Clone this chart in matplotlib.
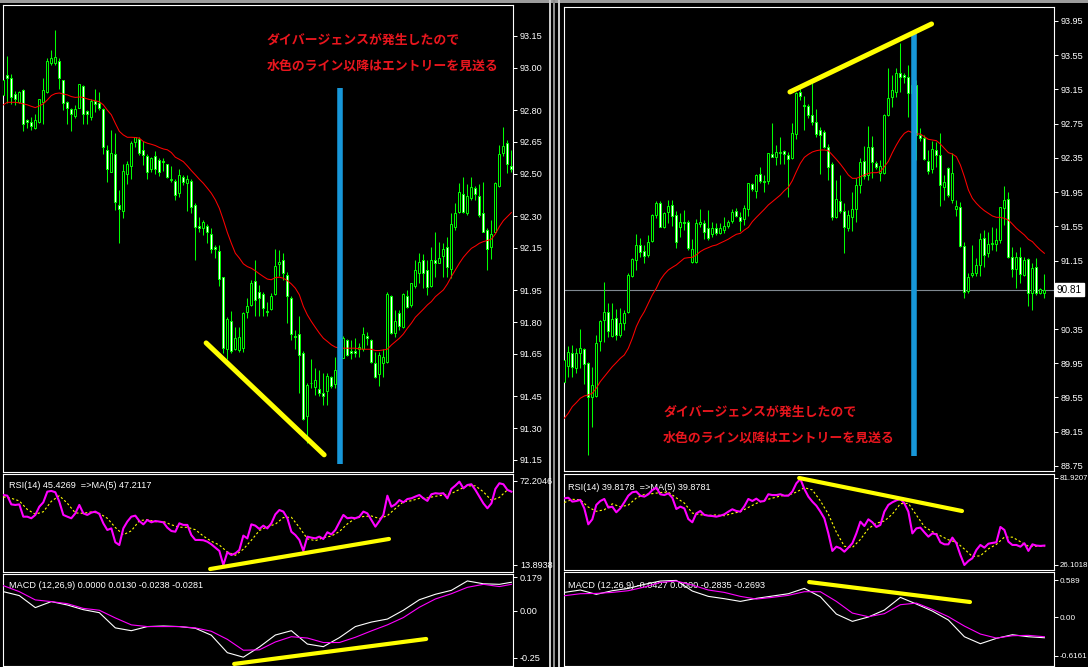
import matplotlib
matplotlib.use("Agg")
import matplotlib.pyplot as plt
import matplotlib.transforms as mtransforms
from matplotlib.patches import Rectangle
import numpy as np

plt.rcParams['font.family'] = ['Liberation Sans', 'Noto Sans CJK JP', 'DejaVu Sans']

# ---------------- DATA : left chart (price falls then rises) ----------------
left_open = [92.87,92.966,92.95,92.875,92.84,92.896,92.754,92.743,92.715,92.743,92.84,92.885,93.021,93.021,93.032,92.94,92.84,92.804,92.771,92.812,
 92.913,92.796,92.768,92.844,92.833,92.804,92.611,92.51,92.592,92.353,92.322,92.50,92.535,92.652,92.664,92.611,92.583,92.521,92.583,92.564,
 92.558,92.545,92.47,92.466,92.411,92.484,92.455,92.466,92.352,92.254,92.243,92.254,92.215,92.153,92.136,92.012,91.672,91.805,91.672,91.669,
 91.68,91.85,91.883,91.992,91.944,91.932,91.853,91.864,91.932,92.072,92.094,92.023,91.913,91.735,91.743,91.654,91.355,91.514,91.492,91.484,
 91.465,91.473,91.539,91.509,91.575,91.633,91.716,91.664,91.664,91.672,91.672,91.735,91.716,91.609,91.556,91.606,91.614,91.924,91.748,91.842,
 91.776,91.924,91.881,91.971,92.034,92.093,92.046,91.971,92.093,92.081,92.112,92.156,92.051,92.251,92.321,92.403,92.313,92.384,92.431,92.395,
 92.313,92.233,92.153,92.224,92.442,92.60,92.644,92.537]
left_high = [92.96,93.056,92.97,92.888,92.888,92.90,92.76,92.77,92.78,92.853,92.95,93.045,93.084,93.18,93.045,92.943,92.844,92.809,92.825,92.922,
 92.919,92.80,92.853,92.90,92.885,92.809,92.636,92.707,92.691,92.424,92.545,92.56,92.655,92.674,92.674,92.655,92.592,92.581,92.605,92.576,
 92.576,92.548,92.537,92.474,92.521,92.495,92.495,92.474,92.364,92.295,92.282,92.264,92.243,92.165,92.163,92.015,91.823,91.852,91.779,91.776,
 91.85,91.913,91.999,92.094,91.976,91.944,91.897,91.937,92.144,92.138,92.125,92.037,91.921,91.764,91.827,91.666,91.512,91.628,91.584,91.575,
 91.562,91.559,91.547,91.635,91.72,91.735,91.719,91.716,91.724,91.70,91.776,91.755,91.719,91.661,91.661,91.672,91.944,91.928,91.858,91.858,
 91.936,91.952,91.986,92.093,92.125,92.122,92.093,92.153,92.227,92.18,92.172,92.203,92.313,92.361,92.455,92.486,92.452,92.486,92.442,92.452,
 92.463,92.243,92.282,92.463,92.636,92.722,92.659,92.612]
left_low = [92.86,92.833,92.83,92.822,92.833,92.70,92.715,92.707,92.712,92.738,92.734,92.88,93.013,93.013,92.90,92.80,92.734,92.70,92.762,92.809,
 92.734,92.734,92.754,92.79,92.80,92.592,92.463,92.51,92.33,92.172,92.293,92.45,92.474,92.627,92.589,92.542,92.473,92.51,92.499,92.491,
 92.513,92.479,92.463,92.374,92.392,92.447,92.322,92.314,92.091,92.223,92.212,92.172,92.125,92.102,91.971,91.654,91.625,91.654,91.669,91.661,
 91.661,91.819,91.874,91.83,91.83,91.83,91.83,91.858,91.929,92.018,91.999,91.795,91.716,91.672,91.465,91.339,91.232,91.489,91.456,91.452,
 91.41,91.41,91.489,91.487,91.56,91.63,91.641,91.625,91.637,91.637,91.666,91.692,91.606,91.535,91.499,91.543,91.609,91.744,91.732,91.763,
 91.771,91.865,91.873,91.96,91.983,91.96,91.928,91.968,92.015,92.078,92.015,92.015,92.007,92.235,92.313,92.313,92.306,92.376,92.376,92.298,
 92.227,92.046,92.097,92.219,92.439,92.584,92.502,92.51]
left_close = [92.94,92.95,92.86,92.853,92.885,92.734,92.743,92.723,92.754,92.851,92.894,93.032,93.045,93.053,92.95,92.833,92.812,92.781,92.806,92.922,
 92.781,92.781,92.844,92.831,92.812,92.624,92.521,92.60,92.366,92.333,92.513,92.545,92.646,92.671,92.60,92.59,92.51,92.573,92.521,92.51,
 92.556,92.484,92.472,92.40,92.495,92.463,92.474,92.342,92.251,92.242,92.271,92.223,92.144,92.144,92.003,91.68,91.814,91.663,91.724,91.732,
 91.842,91.874,91.984,91.905,91.913,91.866,91.85,91.924,92.066,92.084,92.034,91.921,91.743,91.732,91.646,91.342,91.504,91.511,91.528,91.465,
 91.452,91.547,91.501,91.575,91.70,91.724,91.645,91.653,91.653,91.681,91.744,91.724,91.614,91.543,91.645,91.634,91.931,91.751,91.807,91.782,
 91.931,91.873,91.983,92.046,92.082,92.034,91.964,92.093,92.081,92.101,92.145,92.062,92.262,92.313,92.412,92.321,92.395,92.439,92.403,92.306,
 92.227,92.144,92.216,92.455,92.593,92.631,92.546,92.521]
left_ma = [92.825,92.837,92.837,92.837,92.834,92.83,92.825,92.818,92.812,92.82,92.83,92.848,92.869,92.878,92.881,92.876,92.872,92.864,92.86,92.862,
 92.86,92.853,92.848,92.844,92.84,92.825,92.80,92.778,92.738,92.70,92.683,92.672,92.672,92.671,92.668,92.652,92.644,92.639,92.633,92.624,
 92.617,92.613,92.60,92.578,92.568,92.557,92.537,92.515,92.495,92.474,92.455,92.432,92.408,92.377,92.337,92.282,92.223,92.172,92.125,92.102,
 92.075,92.062,92.054,92.042,92.028,92.015,92.003,92.0,92.01,92.012,92.007,91.996,91.98,91.96,91.929,91.874,91.834,91.803,91.775,91.748,
 91.724,91.709,91.693,91.682,91.678,91.677,91.677,91.677,91.677,91.674,91.672,91.672,91.672,91.666,91.666,91.669,91.672,91.692,91.708,91.724,
 91.744,91.771,91.795,91.823,91.842,91.861,91.881,91.897,91.92,91.936,91.952,91.98,92.015,92.046,92.078,92.106,92.128,92.148,92.159,92.172,
 92.18,92.185,92.191,92.216,92.251,92.279,92.298,92.317]
left_rsi = [62.3,61.8,55.8,55.4,55.8,47.3,47.3,46.2,48.5,54.2,57.2,64.6,65.1,64.2,57.7,48.5,47.3,46.2,49.6,55.4,
 49.6,48.5,50.1,50.8,49.2,42.7,38.1,39.2,29.6,27.7,39.2,43.9,47.3,48.0,44.3,42.0,45.0,43.4,44.3,43.9,
 43.4,39.7,37.4,36.9,42.7,41.6,41.6,34.6,31.2,31.2,31.0,30.0,28.2,25.9,23.6,13.9,22.7,20.8,21.95,24.3,
 34.2,32.3,42.0,41.1,38.8,41.1,39.2,42.7,48.9,51.9,50.8,46.2,36.9,34.6,31.2,23.6,33.5,32.8,32.3,33.5,
 31.9,36.5,35.1,38.1,43.4,48.5,46.2,46.6,46.2,47.3,50.8,49.6,45.0,40.4,44.3,48.5,61.8,54.2,55.8,58.8,
 57.2,59.5,60.0,61.2,62.3,60.0,58.2,62.8,63.5,63.2,63.5,60.0,66.5,68.8,71.5,66.9,69.2,69.7,65.8,61.2,
 56.5,53.1,56.5,66.5,70.4,69.7,65.8,64.6]
left_rsi_ma = [61.0,60.0,58.2,52.3,49.0,50.7,57.9,61.8,56.6,49.9,49.6,50.6,49.6,46.2,39.8,34.8,37.5,44.5,45.3,43.8,
 44.0,41.7,40.0,40.0,38.3,33.9,30.3,27.7,22.9,20.6,24.8,31.0,37.7,40.4,42.1,46.7,46.9,39.9,32.0,30.7,
 32.8,33.9,37.0,42.3,46.2,47.4,47.8,46.0,48.0,52.9,57.6,58.3,60.0,60.3,61.4,62.2,63.3,66.1,68.6,68.6,
 64.5,58.6,60.6,65.8]
left_macd = [0.103,0.082,0.018,0.050,0.032,0.007,-0.009,-0.090,-0.105,-0.083,-0.080,-0.083,-0.092,-0.129,-0.222,-0.246,-0.192,
 -0.128,-0.105,-0.176,-0.190,-0.142,-0.083,-0.059,-0.043,0.004,0.060,0.089,0.110,0.160,0.145,0.142,0.153]
left_signal = [0.135,0.103,0.059,0.050,0.039,0.014,0.004,-0.037,-0.074,-0.083,-0.083,-0.083,-0.090,-0.108,-0.151,-0.209,-0.207,
 -0.165,-0.137,-0.144,-0.168,-0.168,-0.140,-0.106,-0.074,-0.035,0.020,0.064,0.092,0.126,0.142,0.130,0.142]

# ---------------- DATA : right chart (price rises then falls) ----------------
right_open = [89.736,89.919,90.067,89.892,90.067,90.113,89.95,89.56,89.568,90.207,90.456,90.553,90.27,90.476,90.28,90.417,90.553,90.97,91.157,91.333,
 91.266,91.216,91.383,91.683,91.819,91.547,91.714,91.80,91.683,91.547,91.605,91.605,91.138,91.138,91.578,91.593,91.527,91.46,91.527,91.469,
 91.507,91.554,91.616,91.733,91.663,91.632,91.749,92.045,91.967,92.162,92.084,92.08,92.391,92.356,92.41,92.43,92.384,92.345,92.63,93.124,
 92.968,92.956,92.851,92.773,92.676,92.656,92.473,92.278,91.663,91.85,91.733,91.527,91.663,91.749,92.033,92.317,92.15,92.481,92.294,92.177,
 92.169,92.851,93.057,93.124,93.338,93.318,93.299,93.112,93.20,92.62,92.578,92.317,92.216,92.442,92.384,92.014,92.228,91.858,91.749,91.78,
 91.32,90.798,90.98,91.001,91.098,91.41,91.235,91.344,91.344,91.39,91.76,91.866,91.196,91.048,91.188,90.98,91.164,90.767,91.071,90.767,90.77]
right_high = [90.086,90.152,90.164,90.125,90.347,90.125,89.969,89.903,90.281,90.456,90.904,90.659,90.65,90.58,90.592,90.573,91.001,91.177,91.461,91.41,
 91.333,91.449,91.695,91.85,91.85,91.722,91.858,91.858,91.734,91.70,91.74,91.625,91.399,91.632,91.749,91.625,91.741,91.605,91.586,91.593,
 91.663,91.624,91.749,91.76,91.721,91.80,92.06,92.06,92.162,92.24,92.15,92.41,92.754,92.50,92.59,92.442,92.423,92.754,93.124,93.163,
 93.073,92.98,93.221,92.917,92.707,92.676,92.512,92.306,92.091,92.15,91.827,91.741,91.955,92.111,92.345,92.489,92.722,92.605,92.317,92.325,
 92.863,93.396,93.318,93.396,93.696,93.346,93.435,93.30,93.26,92.695,92.617,92.442,92.551,92.539,92.637,92.15,92.247,92.403,91.858,91.838,
 91.371,91.001,91.332,91.176,91.468,91.507,91.488,91.538,91.527,91.78,92.021,91.955,91.313,91.254,91.305,91.188,91.176,91.125,91.176,90.826,90.993]
right_low = [89.716,89.794,89.786,89.841,89.892,89.708,88.879,89.21,89.56,90.098,90.203,90.261,90.26,90.22,90.26,90.339,90.542,90.955,91.04,91.196,
 91.126,91.188,91.371,91.644,91.539,91.527,91.586,91.555,91.294,91.43,91.508,91.274,91.118,91.126,91.547,91.399,91.391,91.43,91.449,91.461,
 91.468,91.527,91.593,91.655,91.499,91.566,91.671,91.967,91.877,92.06,91.955,92.045,92.356,92.267,92.28,92.28,91.897,92.333,92.567,93.03,
 92.676,92.82,92.734,92.59,92.161,92.461,92.091,91.624,91.643,91.71,91.235,91.499,91.499,91.605,91.936,92.099,92.091,92.111,92.216,92.084,
 92.161,92.84,92.94,93.057,93.124,93.221,92.824,93.00,92.33,92.55,92.325,92.161,92.169,92.247,91.788,91.858,91.897,91.819,91.671,91.313,
 90.709,90.775,90.96,90.97,90.97,91.079,91.196,91.274,91.266,91.352,91.566,91.176,90.962,90.826,90.884,90.97,90.619,90.572,90.748,90.76,90.709]
right_close = [89.989,90.078,89.903,90.074,90.125,89.942,89.56,89.697,90.191,90.444,90.553,90.331,90.47,90.28,90.417,90.542,90.982,91.165,91.333,91.255,
 91.204,91.371,91.683,91.819,91.547,91.70,91.788,91.671,91.371,91.605,91.59,91.294,91.282,91.586,91.605,91.488,91.41,91.527,91.469,91.535,
 91.554,91.605,91.721,91.671,91.616,91.76,92.052,91.982,92.15,92.084,92.072,92.403,92.356,92.423,92.41,92.39,92.333,92.637,93.112,93.073,
 92.96,92.851,92.773,92.629,92.617,92.481,92.247,91.663,91.866,91.733,91.538,91.682,91.749,92.033,92.306,92.138,92.473,92.306,92.24,92.255,
 92.851,93.046,93.143,93.346,93.299,93.291,93.112,93.20,92.62,92.58,92.333,92.20,92.45,92.384,92.033,92.064,91.916,92.169,91.792,91.32,
 90.787,90.962,91.001,91.098,91.398,91.215,91.344,91.352,91.39,91.772,91.858,91.188,91.048,91.188,90.993,91.157,90.767,91.059,90.775,90.814,90.81]
right_ma = [89.307,89.366,89.443,89.49,89.541,89.568,89.58,89.599,89.658,89.736,89.794,89.852,89.91,89.958,90.008,90.047,90.125,90.242,90.378,90.476,
 90.553,90.651,90.748,90.826,90.924,90.99,91.04,91.071,91.099,91.138,91.177,91.184,91.188,91.216,91.255,91.282,91.301,91.321,91.332,91.355,
 91.377,91.40,91.43,91.457,91.468,91.507,91.538,91.605,91.655,91.702,91.749,91.80,91.838,91.877,91.916,91.967,92.006,92.084,92.189,92.286,
 92.356,92.391,92.419,92.434,92.442,92.442,92.434,92.384,92.333,92.278,92.216,92.15,92.111,92.111,92.13,92.15,92.169,92.177,92.177,92.189,
 92.247,92.31,92.411,92.50,92.578,92.637,92.664,92.645,92.629,92.629,92.598,92.567,92.559,92.551,92.512,92.461,92.411,92.395,92.364,92.267,
 92.13,91.975,91.877,91.819,91.772,91.733,91.702,91.671,91.655,91.655,91.643,91.624,91.577,91.527,91.488,91.449,91.398,91.371,91.32,91.274,91.235]
right_rsi = [68.7,69.1,66.6,67.0,67.7,62.3,52.1,55.3,64.5,67.0,68.3,62.8,63.4,59.8,62.3,66.2,70.4,72.6,73.0,70.4,
 69.8,71.3,74.0,75.5,71.3,70.8,71.9,69.1,61.9,63.4,62.3,55.5,53.4,59.1,60.6,58.1,57.6,57.4,57.0,57.6,
 58.5,60.2,61.7,60.6,60.2,63.6,68.3,67.0,68.5,66.6,67.0,71.3,70.8,70.8,71.3,70.4,70.4,73.0,78.3,81.1,
 74.7,69.8,66.6,64.0,60.2,55.9,46.3,35.1,37.8,36.8,34.6,37.2,40.0,46.3,53.8,51.0,55.3,53.4,50.4,51.7,
 60.2,64.5,66.2,67.4,68.3,65.5,60.2,46.3,49.5,50.0,47.0,44.2,46.3,45.7,40.6,39.3,39.3,43.6,40.0,32.5,
 26.1,28.7,30.4,35.7,38.9,37.2,39.7,40.2,40.6,50.4,48.5,41.0,38.9,38.9,37.8,40.0,35.1,39.3,38.5,38.3,38.5]
right_rsi_ma = [66.0,68.1,67.8,63.1,60.4,61.4,65.2,63.3,64.4,68.9,71.2,71.7,72.4,72.7,69.0,65.7,59.3,58.2,57.8,58.1,
 57.6,59.0,60.2,62.9,65.5,67.5,68.8,70.2,70.7,72.7,75.5,74.1,67.1,58.6,47.1,38.1,37.3,42.4,49.3,52.8,
 54.2,58.6,65.3,65.5,58.0,50.6,47.4,44.8,42.2,40.6,36.3,31.5,32.0,36.4,39.3,43.9,43.9,41.0,38.1,38.1,37.9]
right_macd = [0.392,0.430,0.361,0.419,0.456,0.520,0.573,0.583,0.414,0.329,0.292,0.249,0.297,0.334,0.371,0.456,0.323,0.047,-0.069,0.000,
 0.111,0.313,0.207,0.095,-0.048,-0.314,-0.425,-0.340,-0.282,-0.314,-0.330]
right_signal = [0.339,0.371,0.376,0.392,0.419,0.477,0.552,0.573,0.509,0.430,0.392,0.329,0.286,0.313,0.345,0.403,0.403,0.249,0.063,0.005,
 0.053,0.196,0.222,0.122,0.005,-0.144,-0.271,-0.335,-0.298,-0.292,-0.314]

# tick labels
left_price_ticks = [93.15, 93.00, 92.80, 92.65, 92.50, 92.30, 92.15, 91.95, 91.80, 91.65, 91.45, 91.30, 91.15]
right_price_ticks = [93.95, 93.55, 93.15, 92.75, 92.35, 91.95, 91.55, 91.15, 90.35, 89.95, 89.55, 89.15, 88.75]
left_rsi_ticks = [13.8938, 72.2046]
right_rsi_ticks = [26.1018, 81.9207]
left_macd_ticks = [-0.25, 0.0, 0.179]
left_macd_labels = ['-0.25', '0.00', '0.179']
right_macd_ticks = [-0.6161, 0.0, 0.589]
right_macd_labels = ['-0.6161', '0.00', '0.589']
right_last_price = 90.81

# hand-drawn annotations (candle index, value)
left_blue_line = [(84.05, 92.905), (84.05, 91.131)]
left_price_trend = [(50.7, 91.702), (80.2, 91.174)]
left_rsi_trend = [(51.7, 11.1), (96.4, 31.9)]
left_macd_trend = [(57.7, -0.282), (105.7, -0.149)]
right_blue_line = [(87.36, 93.82), (87.36, 88.867)]
right_price_trend = [(56.4, 93.12), (91.8, 93.915)]
right_rsi_trend = [(58.7, 81.7), (99.4, 60.6)]
right_macd_trend = [(61.2, 0.557), (101.4, 0.239)]
note_line1 = "ダイバージェンスが発生したので"
note_line2 = "水色のライン以降はエントリーを見送る"
left_rsi_title = "RSI(14) 45.4269  =>MA(5) 47.2117"
left_macd_title = "MACD (12,26,9) 0.0000 0.0130 -0.0238 -0.0281"
right_rsi_title = "RSI(14) 39.8178  =>MA(5) 39.8781"
right_macd_title = "MACD (12,26,9) -0.0427 0.0000 -0.2835 -0.2693"

# ---------------- drawing ----------------
W, H = 1088, 667
fig = plt.figure(figsize=(W / 100, H / 100), dpi=100, facecolor='black')
GREEN = '#00ff00'
BLUE = '#1797d9'
YELLOW = '#ffff00'
TXT_RED = '#e8161e'
JP = ['Noto Sans CJK JP', 'DejaVu Sans']


def fig_rect(x, y, w, h, color):
    fig.add_artist(Rectangle((x / W, 1 - (y + h) / H), w / W, h / H,
                             transform=fig.transFigure, color=color, lw=0, zorder=0))


def px_axes(x0, y0, x1, y1, xlim, ylim, lsize=6.6, pad=2):
    ax = fig.add_axes([x0 / W, 1 - y1 / H, (x1 - x0) / W, (y1 - y0) / H])
    ax.set_facecolor('black')
    for s in ax.spines.values():
        s.set_color('white')
        s.set_linewidth(0.8)
    ax.set_xlim(*xlim)
    ax.set_ylim(*ylim)
    ax.yaxis.tick_right()
    ax.tick_params(axis='y', colors='white', labelsize=lsize, length=3, width=0.7, pad=pad)
    ax.set_xticks([])
    return ax


def candles(ax, o, h, l, c, minh):
    o, h, l, c = map(np.asarray, (o, h, l, c))
    x = np.arange(len(o))
    ax.vlines(x, l, h, color=GREEN, lw=0.75, zorder=2)
    bull = c >= o
    bottom = np.minimum(o, c)
    height = np.maximum(np.abs(c - o), minh)
    faces = np.where(bull, 'black', 'white')
    ax.bar(x, height, width=0.5, bottom=bottom, color=faces, edgecolor=GREEN,
           linewidth=0.7, zorder=3)


def seg(ax, pts, color, lw, cap='round', z=6):
    xs, ys = zip(*pts)
    ax.plot(xs, ys, color=color, lw=lw, solid_capstyle=cap, zorder=z)


# window chrome
fig_rect(0, 0, W, 3, '#9c9c9c')
fig_rect(549, 0, 2, H, '#c8c8c8')
fig_rect(553, 0, 1.5, H, '#8c8c8c')
fig_rect(557.5, 0, 2, H, '#c8c8c8')

LX = (-0.2, 127.4)
RX = (-0.15, 122.4)

# ---- left main
ax = px_axes(2.5, 5, 513, 472, LX, (91.093, 93.296))
candles(ax, left_open, left_high, left_low, left_close, 0.004)
ax.plot(np.arange(len(left_ma)), left_ma, color='#ff0000', lw=0.75, zorder=4)
ax.set_yticks(left_price_ticks)
ax.set_yticklabels([f"{v:.2f}" for v in left_price_ticks])
seg(ax, left_blue_line, BLUE, 4.0, cap='butt')
seg(ax, left_price_trend, YELLOW, 3.6)
ax.text(65.9, 93.131, note_line1, color=TXT_RED, fontsize=9.3, fontweight='bold',
        family=JP, va='center', ha='left', zorder=7)
ax.text(65.9, 93.008, note_line2, color=TXT_RED, fontsize=9.3, fontweight='bold',
        family=JP, va='center', ha='left', zorder=7)

# ---- left RSI
ax = px_axes(2.5, 474, 513, 572, LX, (9.05, 76.8))
ax.plot(np.arange(len(left_rsi_ma)) * 2, left_rsi_ma, color=YELLOW, lw=0.8,
        linestyle=(0, (2, 2)), zorder=3)
ax.plot(np.arange(len(left_rsi)), left_rsi, color='#ff00ff', lw=1.5, zorder=4)
ax.set_yticks(left_rsi_ticks)
ax.set_yticklabels([f"{v:.4f}" for v in left_rsi_ticks])
seg(ax, left_rsi_trend, YELLOW, 3.0)
ax.text(0.012, 0.88, left_rsi_title, transform=ax.transAxes, color='white', fontsize=6.6,
        va='center', ha='left', zorder=1)

# ---- left MACD
ax = px_axes(2.5, 574, 513, 666, LX, (-0.293, 0.197))
lmx = np.r_[np.arange(0, 125, 4), 127]
ax.plot(lmx, left_macd, color='white', lw=0.8, zorder=3)
ax.plot(lmx, left_signal, color='#ff00ff', lw=0.8, zorder=3)
ax.set_yticks(left_macd_ticks)
ax.set_yticklabels(left_macd_labels)
ax.set_xticks(np.arange(16, 127, 16))
ax.tick_params(axis='x', colors='white', length=3, width=0.7, labelbottom=False)
seg(ax, left_macd_trend, YELLOW, 3.0)
ax.text(0.012, 0.88, left_macd_title, transform=ax.transAxes, color='white', fontsize=6.6,
        va='center', ha='left', zorder=1)

# ---- right main
ax = px_axes(563.7, 7, 1054, 471, RX, (88.691, 94.113))
ax.axhline(right_last_price, color='#7f8890', lw=0.8, zorder=1)
candles(ax, right_open, right_high, right_low, right_close, 0.011)
ax.plot(np.arange(len(right_ma)), right_ma, color='#ff0000', lw=0.75, zorder=4)
ax.set_yticks(right_price_ticks)
ax.set_yticklabels([f"{v:.2f}" for v in right_price_ticks])
seg(ax, right_blue_line, BLUE, 4.0, cap='butt')
seg(ax, right_price_trend, YELLOW, 3.6)
trans = mtransforms.blended_transform_factory(ax.transAxes, ax.transData)
ax.text(1.006, right_last_price, f"{right_last_price:.2f}", transform=trans, color='black',
        fontsize=7.2, va='center', ha='left', zorder=8, clip_on=False,
        bbox=dict(facecolor='white', edgecolor='white', boxstyle='square,pad=0.15'))
ax.text(24.7, 89.381, note_line1, color=TXT_RED, fontsize=9.3, fontweight='bold',
        family=JP, va='center', ha='left', zorder=7)
ax.text(24.7, 89.077, note_line2, color=TXT_RED, fontsize=9.3, fontweight='bold',
        family=JP, va='center', ha='left', zorder=7)

# ---- right RSI (labels a little smaller so they fit at the picture edge)
ax = px_axes(563.7, 474, 1054, 570, RX, (22.9, 84.26), lsize=5.7, pad=1)
ax.plot(np.arange(len(right_rsi_ma)) * 2, right_rsi_ma, color=YELLOW, lw=0.8,
        linestyle=(0, (2, 2)), zorder=3)
ax.plot(np.arange(len(right_rsi)), right_rsi, color='#ff00ff', lw=1.5, zorder=4)
ax.set_yticks(right_rsi_ticks)
ax.set_yticklabels([f"{v:.4f}" for v in right_rsi_ticks])
seg(ax, right_rsi_trend, YELLOW, 3.0)
ax.text(0.008, 0.86, right_rsi_title, transform=ax.transAxes, color='white', fontsize=6.6,
        va='center', ha='left', zorder=1)

# ---- right MACD
ax = px_axes(563.7, 572, 1054, 666, RX, (-0.78, 0.717), lsize=5.9, pad=1)
rmx = np.arange(0, 121, 4)
ax.text(0.008, 0.86, right_macd_title, transform=ax.transAxes, color='white', fontsize=6.6,
        va='center', ha='left', zorder=1)
ax.plot(rmx, right_macd, color='white', lw=0.8, zorder=3)
ax.plot(rmx, right_signal, color='#ff00ff', lw=0.8, zorder=3)
ax.set_yticks(right_macd_ticks)
ax.set_yticklabels(right_macd_labels)
ax.set_xticks(np.arange(0, 121, 16))
ax.tick_params(axis='x', colors='white', length=3, width=0.7, labelbottom=False)
seg(ax, right_macd_trend, YELLOW, 3.0)

fig.savefig('out.png', dpi=100, facecolor='black')
